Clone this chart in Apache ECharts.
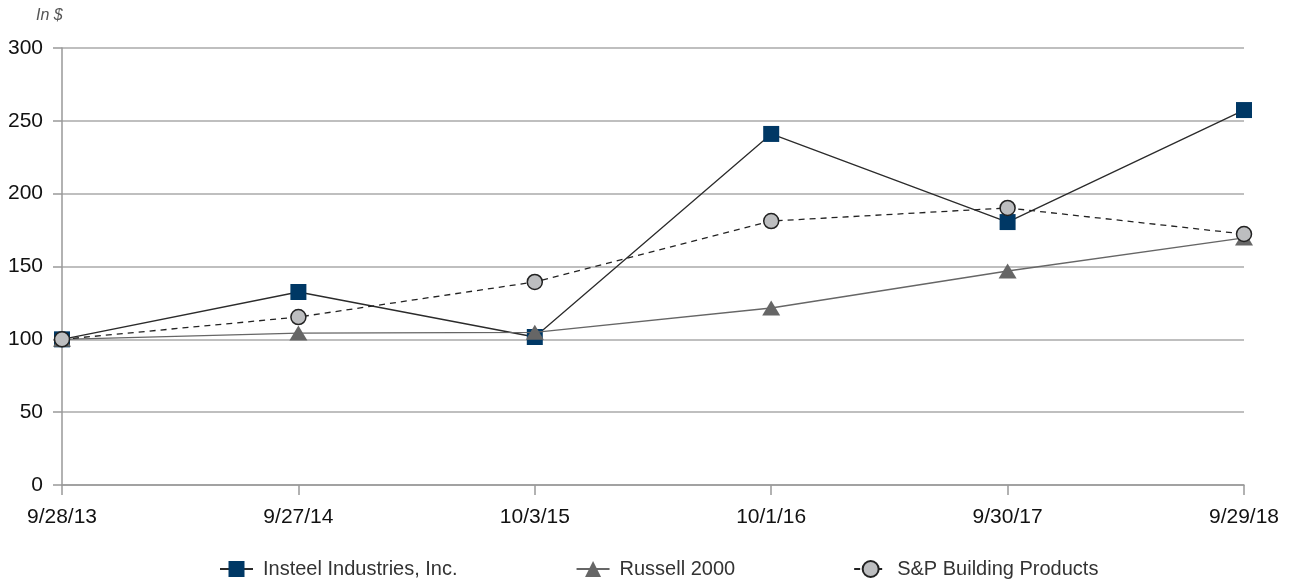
<!DOCTYPE html>
<html><head><meta charset="utf-8">
<script src="https://cdn.jsdelivr.net/npm/echarts@6/dist/echarts.min.js"></script>
<style>html,body{margin:0;padding:0;background:#fff}#c{width:1293px;height:579px}</style>
</head><body><div id="c"></div>
<script>
const categories = ['9/28/13','9/27/14','10/3/15','10/1/16','9/30/17','9/29/18'];
const insteel = [100, 132.5, 101.6, 241, 180.5, 257.4];
const russell = [100, 104.3, 104.8, 121.5, 146.9, 169.6];
const spBuilding = [100, 115.3, 139.4, 181.2, 190.2, 172.3];
const yTicks = [0, 50, 100, 150, 200, 250, 300];

const font = 'Liberation Sans, Arial, Helvetica, sans-serif';
const chart = echarts.init(document.getElementById('c'));
chart.setOption({
  animation: false,
  textStyle: { fontFamily: font },
  title: { text: 'In $', left: 31, top: 3, textStyle: { fontSize: 16, fontStyle: 'italic', fontWeight: 'normal', color: '#555', fontFamily: font } },
  grid: { left: 62, right: 49, top: 48, bottom: 94 },
  legend: {
    left: 214, top: 554, itemWidth: 33, itemHeight: 20, itemGap: 118,
    textStyle: { fontSize: 20, color: '#333', fontFamily: font, padding: [0,0,0,5] },
    data: ['Insteel Industries, Inc.', 'Russell 2000', 'S&P Building Products']
  },
  xAxis: {
    type: 'category', data: categories, boundaryGap: false,
    axisLine: { lineStyle: { color: '#999', width: 1.5 } },
    axisTick: { show: true, length: 10, alignWithLabel: true, lineStyle: { color: '#999', width: 1.5 } },
    axisLabel: { fontSize: 21, color: '#111', margin: 22, showMinLabel: true, showMaxLabel: true, interval: 0 }
  },
  yAxis: {
    type: 'value', min: 0, max: 300, interval: 50,
    axisLine: { show: true, lineStyle: { color: '#999', width: 1.5 } },
    axisTick: { show: true, length: 9, lineStyle: { color: '#999', width: 1.5 } },
    splitLine: { lineStyle: { color: '#aaa', width: 1.5 } },
    axisLabel: { fontSize: 21, color: '#111', margin: 19,
      formatter: function (v) { return yTicks.indexOf(v) >= 0 ? String(v) : ''; } }
  },
  series: [
    { name: 'Insteel Industries, Inc.', type: 'line', data: insteel, z: 3,
      symbol: 'rect', symbolSize: 16,
      itemStyle: { color: '#003865', borderWidth: 0 },
      lineStyle: { color: '#2b2b2b', width: 1.3 } },
    { name: 'Russell 2000', type: 'line', data: russell, z: 4,
      symbol: 'triangle', symbolSize: [18, 15],
      itemStyle: { color: '#666', borderWidth: 0 },
      lineStyle: { color: '#666', width: 1.3 } },
    { name: 'S&P Building Products', type: 'line', data: spBuilding, z: 5,
      symbol: 'circle', symbolSize: 15,
      itemStyle: { color: '#bdbec0', borderColor: '#222', borderWidth: 1.5 },
      lineStyle: { color: '#222', width: 1.3, type: [6, 5] } }
  ]
});
</script></body></html>
